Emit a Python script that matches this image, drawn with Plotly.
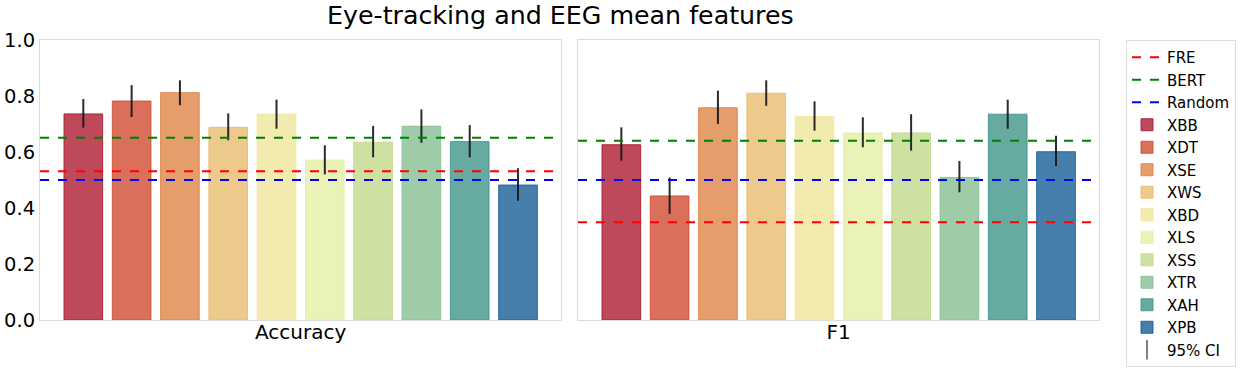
import plotly.graph_objects as go

models = ["XBB", "XDT", "XSE", "XWS", "XBD", "XLS", "XSS", "XTR", "XAH", "XPB"]
acc_mean = [0.736, 0.782, 0.812, 0.688, 0.735, 0.571, 0.635, 0.692, 0.637, 0.482]
acc_hi = [0.789, 0.839, 0.856, 0.738, 0.787, 0.624, 0.693, 0.752, 0.696, 0.542]
acc_lo = [0.687, 0.725, 0.767, 0.642, 0.683, 0.520, 0.581, 0.633, 0.581, 0.426]
f1_mean = [0.626, 0.443, 0.758, 0.810, 0.726, 0.668, 0.668, 0.509, 0.735, 0.601]
f1_hi = [0.688, 0.509, 0.819, 0.856, 0.781, 0.724, 0.735, 0.568, 0.787, 0.658]
f1_lo = [0.569, 0.379, 0.700, 0.765, 0.676, 0.617, 0.605, 0.456, 0.683, 0.550]
baseline_names = ["FRE", "BERT", "Random"]
acc_baselines = [0.531, 0.651, 0.500]
f1_baselines = [0.349, 0.640, 0.500]
panels = ["Accuracy", "F1"]

base_rgb = [(174, 27, 49), (209, 76, 51), (222, 132, 71), (232, 189, 111), (240, 229, 155),
            (230, 239, 165), (194, 217, 140), (134, 191, 146), (65, 149, 139), (25, 95, 151)]
line_colors = ["red", "green", "blue"]

FONT = "DejaVu Sans"
fig = go.Figure()

x_idx = list(range(len(models)))
ranges = {"x": [-0.897, 9.89], "x2": [-0.897, 9.89]}

datasets = [("x", "y", acc_mean, acc_hi, acc_lo, acc_baselines),
            ("x2", "y2", f1_mean, f1_hi, f1_lo, f1_baselines)]

for p, (xa, ya, mean, hi, lo, bases) in enumerate(datasets):
    lo_r, hi_r = ranges[xa]
    for name, val, col in zip(baseline_names, bases, line_colors):
        fig.add_trace(go.Scatter(
            x=[lo_r, hi_r], y=[val, val], mode="lines", name=name,
            line=dict(color=col, dash="dash", width=2),
            xaxis=xa, yaxis=ya, showlegend=(p == 0),
            hoverinfo="skip"))
    for i, m in enumerate(models):
        r, g, b = base_rgb[i]
        fig.add_trace(go.Bar(
            x=[x_idx[i]], y=[mean[i]], width=0.8, name=m,
            marker=dict(color=f"rgba({r},{g},{b},0.8)",
                        line=dict(color=f"rgba({r},{g},{b},0.9)", width=1)),
            error_y=dict(type="data", symmetric=False,
                         array=[hi[i] - mean[i]], arrayminus=[mean[i] - lo[i]],
                         width=0, thickness=2, color="rgba(20,20,20,0.9)"),
            xaxis=xa, yaxis=ya, showlegend=(p == 0)))

fig.add_trace(go.Scatter(
    x=[None], y=[None], mode="markers", name="95% CI",
    marker=dict(symbol="line-ns-open", size=14, color="#555",
                line=dict(width=1.5, color="#555")),
    xaxis="x", yaxis="y", showlegend=True))

axis_common = dict(showgrid=False, zeroline=False, showline=True, linecolor="#dcdcdc",
                   linewidth=1, mirror=True, ticks="", automargin=False)

fig.update_layout(
    width=1248, height=368,
    margin=dict(l=40, r=149, t=40, b=48, autoexpand=False),
    paper_bgcolor="white", plot_bgcolor="white",
    barmode="overlay",
    font=dict(family=FONT, color="black"),
    title=dict(text="Eye-tracking and EEG mean features", x=0.449, xanchor="center",
               y=1 - 15 / 368, yanchor="middle", yref="container",
               font=dict(family=FONT, size=25.3, color="black")),
    xaxis=dict(domain=[0, 0.49197], range=ranges["x"], tickvals=[4.5], ticktext=[panels[0]],
               tickfont=dict(size=20), anchor="y", ticklabelstandoff=-6, **axis_common),
    xaxis2=dict(domain=[0.50803, 1.0], range=ranges["x2"], tickvals=[4.5], ticktext=[panels[1]],
                tickfont=dict(size=20), anchor="y2", ticklabelstandoff=-6, **axis_common),
    yaxis=dict(range=[0, 1.0], tickvals=[0, 0.2, 0.4, 0.6, 0.8, 1.0],
               ticktext=["0.0", "0.2", "0.4", "0.6", "0.8", "1.0"],
               tickfont=dict(size=19.5), anchor="x", **axis_common),
    yaxis2=dict(range=[0, 1.0], anchor="x2", showticklabels=False, **axis_common),
    legend=dict(x=1.0255, xanchor="left", y=1.0, yanchor="top", traceorder="normal",
                bordercolor="#dcdcdc", borderwidth=1, font=dict(size=15, family=FONT),
                itemwidth=30, bgcolor="white", maxheight=360),
    showlegend=True,
)

fig.write_html("out.html", config={"displayModeBar": False},
               post_script="document.body.style.margin='0px';")
